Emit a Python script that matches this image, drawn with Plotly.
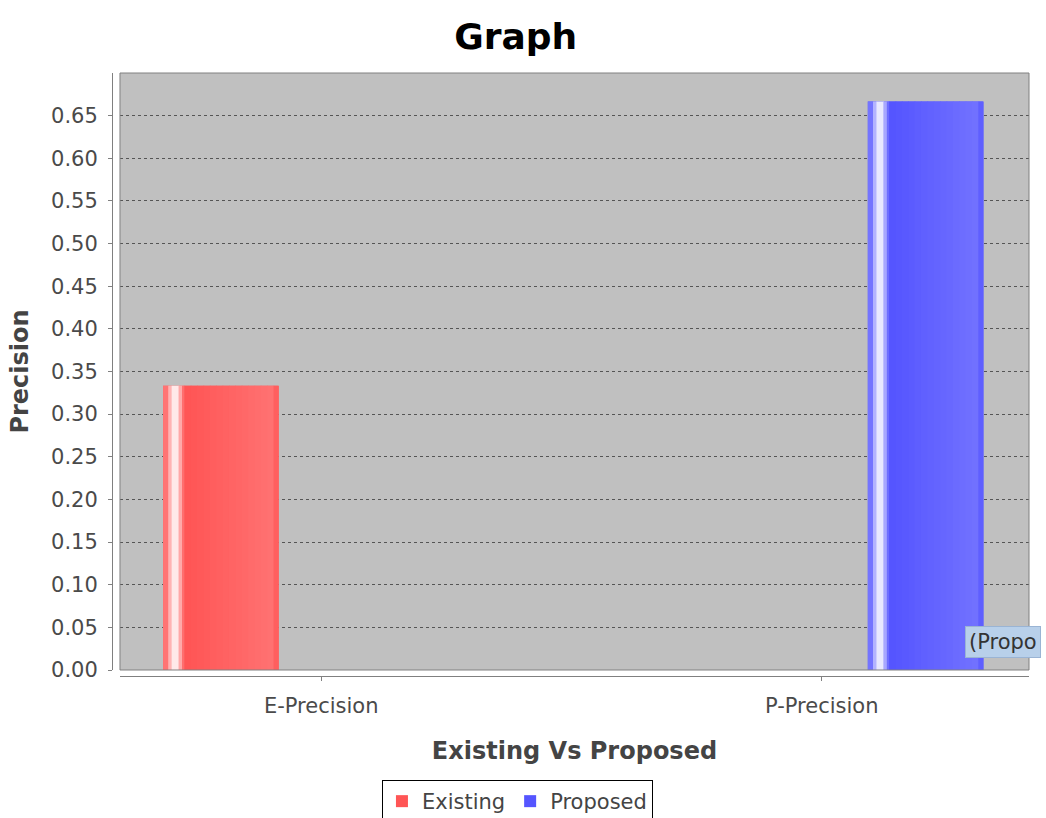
import plotly.graph_objects as go

# ---- data ----
categories = ["E-Precision", "P-Precision"]
existing_values = [0.3333, None]
proposed_values = [None, 0.6667]
series_names = ["Existing", "Proposed"]
y_tick_values = [round(i * 0.05, 2) for i in range(14)]
y_tick_labels = [f"{v:.2f}" for v in y_tick_values]

# ---- styling ----
FONT = "DejaVu Sans"
TXT = "#444444"
BAR_W = 0.23
OFFSETS = {"Existing": -0.316, "Proposed": 0.092}


def lerp(c1, c2, t):
    return "#" + "".join(f"{int(round(a + (b - a) * t)):02x}" for a, b in zip(c1, c2))


def strips(base, light, white):
    # (start fraction, end fraction, colour) describing the shaded bar look
    s = [
        (0.00, 0.045, lerp(base, light, 0.6)),
        (0.045, 0.075, lerp(light, white, 0.4)),
        (0.075, 0.135, lerp(light, white, 0.9)),
        (0.135, 0.165, lerp(light, white, 0.3)),
        (0.165, 0.185, lerp(base, light, 0.5)),
    ]
    n = 14
    start, end = 0.185, 0.96
    for i in range(n):
        a = start + (end - start) * i / n
        b = start + (end - start) * (i + 1) / n
        t = (i / (n - 1)) * 0.55
        s.append((a, b, lerp(base, light, t)))
    s.append((0.96, 1.0, lerp(base, light, 0.2)))
    return s


fig = go.Figure()

series = [
    ("Existing", existing_values, (0xFF, 0x55, 0x55), (0xFF, 0x88, 0x88), (0xFF, 0xF4, 0xF4)),
    ("Proposed", proposed_values, (0x55, 0x55, 0xFF), (0x88, 0x88, 0xFF), (0xF4, 0xF4, 0xFF)),
]

for name, vals, base, light, white in series:
    off = OFFSETS[name]
    # main bar (legend entry)
    fig.add_trace(go.Bar(
        x=categories, y=vals, name=name, legendgroup=name,
        offset=off, width=BAR_W,
        marker=dict(color=lerp(base, base, 0), line=dict(width=0)),
        showlegend=True,
    ))
    for a, b, col in strips(base, light, white):
        fig.add_trace(go.Bar(
            x=categories, y=vals, name=name, legendgroup=name,
            offset=off + a * BAR_W, width=(b - a) * BAR_W + 0.0015,
            marker=dict(color=col, line=dict(width=0)),
            showlegend=False, hoverinfo="skip",
        ))

fig.update_layout(
    width=1046, height=818,
    margin=dict(l=112, r=17, t=73, b=142),
    paper_bgcolor="white",
    plot_bgcolor="#c0c0c0",
    barmode="overlay",
    font=dict(family=FONT, color=TXT),
    title=dict(
        text="<b>Graph</b>", x=0.493, xref="container", xanchor="center",
        y=1 - 36 / 818, yref="container", yanchor="middle",
        font=dict(family=FONT, size=36, color="black"),
    ),
    xaxis=dict(
        domain=[0.0087, 1], anchor="free", position=0,
        range=[-0.402, 1.414],
        showline=True, linecolor="#808080", linewidth=1,
        ticks="outside", ticklen=4, tickcolor="#808080",
        ticklabelstandoff=7,
        showgrid=False, zeroline=False,
        tickfont=dict(family=FONT, size=21, color="#4a4a4a"),
        title=dict(text="<b>Existing Vs Proposed</b>", standoff=24,
                   font=dict(family=FONT, size=24, color=TXT)),
    ),
    yaxis=dict(
        domain=[0.00995, 1], anchor="free", position=0,
        range=[0, 0.7],
        tickvals=y_tick_values, ticktext=y_tick_labels,
        showline=True, linecolor="#808080", linewidth=1,
        ticks="outside", ticklen=4, tickcolor="#808080",
        ticklabelstandoff=6,
        showgrid=True, gridcolor="#555555", gridwidth=1, griddash="3px,3px",
        zeroline=False,
        tickfont=dict(family=FONT, size=21, color="#4a4a4a"),
        title=dict(text="<b>Precision</b>", standoff=14,
                   font=dict(family=FONT, size=24, color=TXT)),
    ),
    legend=dict(
        orientation="h", xref="container", yref="container",
        x=0.4947, xanchor="center", y=1 - 780 / 818, yanchor="top",
        bordercolor="black", borderwidth=1, bgcolor="white",
        font=dict(family=FONT, size=21, color=TXT),
        itemwidth=30, tracegroupgap=0,
    ),
    shapes=[
        dict(type="rect", xref="x domain", yref="y domain",
             x0=0, x1=1, y0=0, y1=1, line=dict(color="#808080", width=1),
             fillcolor="rgba(0,0,0,0)", layer="above"),
    ],
    annotations=[
        dict(text="(Propo", xref="paper", yref="paper",
             x=(965 - 112) / 917, y=(676 - 642) / 603,
             xanchor="left", yanchor="middle", showarrow=False,
             bgcolor="#b8d0ea", bordercolor="#9ab4d4", borderwidth=1, borderpad=3,
             font=dict(family=FONT, size=21, color="#333333")),
    ],
)

fig.write_html("out.html")
